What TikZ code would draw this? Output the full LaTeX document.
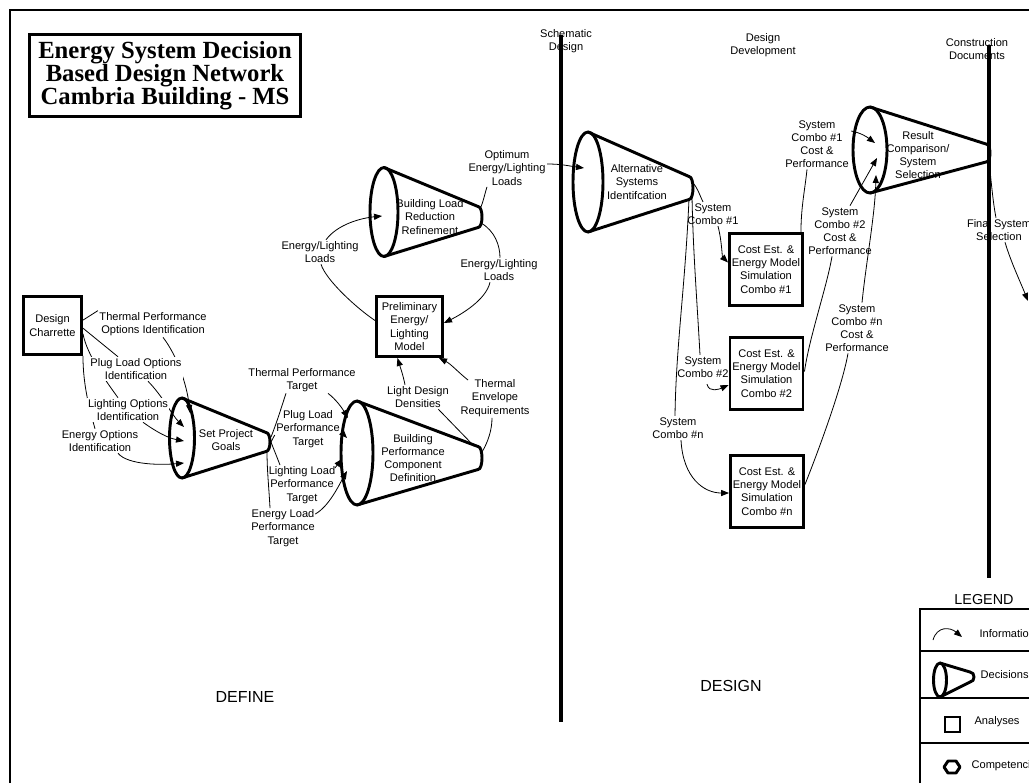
\documentclass[tikz,border=0pt]{standalone}
\usepackage{fontspec}
\setmainfont{Liberation Sans}
\newfontfamily\titlefont{Liberation Serif}
\usetikzlibrary{arrows.meta,calc}
\pgfdeclarelayer{wires}
\pgfdeclarelayer{phaselines}
\pgfsetlayers{wires,main,phaselines}

\tikzset{
  lbl/.style={font=\fontsize{8.3}{9.9}\selectfont, align=center, inner sep=1pt},
  phase/.style={font=\fontsize{12}{14}\selectfont, inner sep=1pt},
  conestyle/.style={line width=2.2pt, line join=round},
  boxnode/.style={draw, line width=2.2pt, align=center, inner sep=0pt,
                  font=\fontsize{8.3}{9.9}\selectfont},
  wire/.style={line width=0.6pt},
  arr/.style={wire, -{Triangle[length=6pt,width=4.6pt]}},
  sepline/.style={line width=2.3pt},
  legline/.style={line width=1.8pt},
}

% decision cone: ellipse (cx,cy,rx,ry) tapering to a rounded end at (tx,ty) of half height r
\newcommand{\drawcone}[7]{%
  \draw[conestyle] (#1,#2) ellipse [x radius=#3, y radius=#4];
  \draw[conestyle] (#1,#2-#4) -- (#5-4,#6-#7)
    .. controls (#5+1.33,#6-#7) and (#5+1.33,#6+#7) .. (#5-4,#6+#7) -- (#1,#2+#4);
}

\begin{document}
\begin{tikzpicture}[x=0.75pt,y=-0.75pt]
\useasboundingbox (0,0) rectangle (1029,783);

% outer frame
\draw[line width=1.5pt] (10,783) -- (10,10) -- (1029,10);

% title
\node[draw, line width=2.2pt, minimum width=203.25pt, minimum height=61.5pt, align=center,
      inner sep=0pt, font=\titlefont\bfseries\fontsize{18.5}{17.3}\selectfont]
  (title) at (165,75.5) {Energy System Decision\\Based Design Network\\Cambria Building - MS};

% phase names
\node[lbl] (ph1) at (566,41) {Schematic\\Design};
\node[lbl] (ph2) at (763,45) {Design\\Development};
\node[lbl] (ph3) at (977,49) {Construction\\Documents};
\node[phase] (def) at (245,697) {DEFINE};
\node[phase] (des) at (731,686) {DESIGN};

% phase separators
\coordinate (sd-top) at (561,35);
\coordinate (sd-bot) at (561,722);
\coordinate (cd-top) at (989,45);
\coordinate (cd-bot) at (989,578);
\begin{pgfonlayer}{phaselines}
  \draw[sepline] (sd-top) -- (sd-bot);
  \draw[sepline] (cd-top) -- (cd-bot);
\end{pgfonlayer}

% decisions
\drawcone{182}{438}{12.5}{40}{270}{442}{9.5}
\node[lbl] (spg) at (226,440) {Set Project\\Goals};
\drawcone{357}{453}{16}{52}{482}{458}{11.5}
\node[lbl] (bpcd) at (413,458) {Building\\Performance\\Component\\Definition};
\drawcone{384}{212}{14}{44.5}{482}{217}{10.5}
\node[lbl] (blrr) at (430,217) {Building Load\\Reduction\\Refinement};
\drawcone{588}{182}{15}{50}{693}{188}{11.5}
\node[lbl] (as) at (637,182) {Alternative\\Systems\\Identifcation};
\drawcone{870}{150}{17}{43}{990}{153}{9}
\node[lbl] (rc) at (918,155) {Result\\Comparison/\\System\\Selection};

% analyses
\node[boxnode, minimum width=43.5pt, minimum height=43.5pt] (dc) at (52.5,325.5) {Design\\Charrette};
\node[boxnode, minimum width=49.5pt, minimum height=45pt] (pm) at (409.5,326.5) {Preliminary\\Energy/\\Lighting\\Model};
\node[boxnode, minimum width=54.75pt, minimum height=54pt] (c1) at (766,269.5) {Cost Est. \&\\Energy Model\\Simulation\\Combo \#1};
\node[boxnode, minimum width=54.75pt, minimum height=54pt] (c2) at (766.5,373.5) {Cost Est. \&\\Energy Model\\Simulation\\Combo \#2};
\node[boxnode, minimum width=54.75pt, minimum height=54pt] (cn) at (767,491.5) {Cost Est. \&\\Energy Model\\Simulation\\Combo \#n};

% information labels
\node[lbl] (l1) at (153,324) {Thermal Performance\\Options Identification};
\node[lbl, fill=white] (l2) at (136,369) {Plug Load Options\\Identification};
\node[lbl, fill=white] (l3) at (128,410) {Lighting Options\\Identification};
\node[lbl] (l4) at (100,441) {Energy Options\\Identification};
\node[lbl] (l5) at (302,380) {Thermal Performance\\Target};
\node[lbl] (l6) at (308,429) {Plug Load\\Performance\\Target};
\node[lbl] (l7) at (302,485) {Lighting Load\\Performance\\Target};
\node[lbl] (l8) at (283,528) {Energy Load\\Performance\\Target};
\node[lbl] (l9) at (418,397) {Light Design\\Densities};
\node[lbl] (l10) at (495,398) {Thermal\\Envelope\\Requirements};
\node[lbl] (l11) at (320,252) {Energy/Lighting\\Loads};
\node[lbl] (l12) at (499,270) {Energy/Lighting\\Loads};
\node[lbl] (l13) at (507,168) {Optimum\\Energy/Lighting\\Loads};
\node[lbl] (l14) at (713,214) {System\\Combo \#1};
\node[lbl] (l15) at (703,367) {System\\Combo \#2};
\node[lbl] (l16) at (678,428) {System\\Combo \#n};
\node[lbl] (l17) at (817,144) {System\\Combo \#1\\Cost \&\\Performance};
\node[lbl] (l18) at (840,231) {System\\Combo \#2\\Cost \&\\Performance};
\node[lbl] (l19) at (857,328) {System\\Combo \#n\\Cost \&\\Performance};
\node[lbl] (l20) at (999,230) {Final System\\Selection};

% connector ends on the decisions
\coordinate (spg-a) at (190,413);
\coordinate (spg-b) at (184,427);
\coordinate (spg-c) at (184,441);
\coordinate (spg-d) at (184,463);
\coordinate (spg-tt) at (271,437);
\coordinate (spg-tip) at (271,442);
\coordinate (spg-tb) at (267,451);
\coordinate (bp-a) at (348,418);
\coordinate (bp-b) at (347,438);
\coordinate (bp-c) at (342,459);
\coordinate (bp-d) at (347,471);
\coordinate (bp-tt) at (474,446);
\coordinate (bp-tip) at (482,452);
\coordinate (blrr-a) at (382,216);
\coordinate (blrr-tt) at (480,209);
\coordinate (blrr-tb) at (481,223);
\coordinate (as-a) at (584,168);
\coordinate (as-tt) at (692,182);
\coordinate (as-tb) at (692,196);
\coordinate (as-tb2) at (689,199);
\coordinate (rc-a) at (875,143);
\coordinate (rc-b) at (877,158);
\coordinate (rc-c) at (876,175);
\coordinate (rc-tb) at (989,160);
\coordinate (fss-end) at (1028,301);

\begin{pgfonlayer}{wires}
% design charrette -> set project goals
\draw[wire] (dc.10) -- (l1.north west);
\draw[arr] ($(l1.south)+(10,0)$) .. controls +(14,18) and +(-3,-28) .. (spg-a);
\draw[wire] (dc.-5) -- ($(l2.north)+(-18,0)$);
\draw[arr] ($(l2.south)+(12,0)$) .. controls +(14,14) and +(-12,-12) .. (spg-b);
\draw[wire] (dc.-15) .. controls +(4,22) and +(-10,-14) .. ($(l3.north)+(-10,0)$);
\draw[arr] ($(l3.south)+(15,0)$) .. controls +(14,10) and +(-16,-3) .. (spg-c);
\draw[wire] (dc.south east) .. controls +(0,30) and +(-5,-18) .. ($(l4.north)+(-5,0)$);
\draw[arr] ($(l4.south)+(18,0)$) .. controls +(10,12) and +(-22,2) .. (spg-d);
% set project goals -> building performance component definition
\draw[wire] (spg-tt) .. controls +(6,-15) and +(-4,12) .. ($(l5.south)+(-16,0)$);
\draw[arr] ($(l5.south)+(26,0)$) .. controls +(8,6) and +(-6,-10) .. (bp-a);
\draw[wire] (spg-tip) -- ($(l6.west)+(0,6)$);
\draw[arr] ($(l6.east)+(0,3)$) -- (bp-b);
\draw[wire] (spg-tip) .. controls +(3,8) and +(-3,-8) .. ($(l7.north)+(-22,0)$);
\draw[arr] ($(l7.north east)+(-2,3)$) -- (bp-c);
\draw[wire] (spg-tb) .. controls +(0,20) and +(-1,-20) .. ($(l8.north)+(-13,0)$);
\draw[arr] ($(l8.north east)+(-1,6)$) .. controls +(14,-8) and +(-8,14) .. (bp-d);
% building performance component definition -> preliminary model
\draw[wire] (bp-tt) -- ($(l9.south east)+(-12,0)$);
\draw[arr] ($(l9.north)+(-13,0)$) .. controls +(-2,-10) and +(3,10) .. ($(pm.south)+(-12,0)$);
\draw[wire] (bp-tip) .. controls +(6,-10) and +(0,12) .. ($(l10.south)+(-3,0)$);
\draw[arr] ($(l10.north)+(-27,2)$) .. controls +(-10,-8) and +(12,6) .. ($(pm.south east)+(-5,0)$);
% preliminary model <-> building load reduction refinement
\draw[wire] ($(pm.west)+(0,-6)$) .. controls +(-18,-12) and +(5,16) .. ($(l11.south)+(1,0)$);
\draw[arr] ($(l11.north)+(6,0)$) .. controls +(12,-16) and +(-20,2) .. (blrr-a);
\draw[wire] (blrr-tb) .. controls +(14,8) and +(0,-12) .. ($(l12.north)+(1,0)$);
\draw[arr] ($(l12.south)+(-9,0)$) .. controls +(-4,18) and +(16,-8) .. ($(pm.east)+(0,-3.5)$);
% building load reduction refinement -> alternative systems
\draw[wire] (blrr-tt) .. controls +(3,-6) and +(-2,6) .. ($(l13.south)+(-20,0)$);
\draw[arr] ($(l13.east)+(0,-4)$) .. controls +(15,0) and +(-15,-2) .. (as-a);
% alternative systems -> cost estimates
\draw[wire] (as-tt) .. controls +(6,6) and +(-4,-8) .. ($(l14.north)+(-10,0)$);
\draw[arr] ($(l14.south)+(5,0)$) .. controls +(4,16) and +(-6,-6) .. ($(c1.west)+(0,-7)$);
\draw[wire] (as-tb) .. controls +(1,55) and +(-3,-55) .. ($(l15.north)+(-3,0)$);
\draw[arr] ($(l15.south)+(4,5)$) .. controls +(2,9) and +(-9,4) .. ($(c2.west)+(0,11.5)$);
\draw[wire] (as-tb2) .. controls +(-4,90) and +(1,-70) .. ($(l16.north)+(-3,0)$);
\draw[arr] ($(l16.south)+(3,0)$) .. controls +(2,38) and +(-25,0) .. ($(cn.west)+(0,1.5)$);
% cost estimates -> result comparison
\draw[wire] ($(c1.north east)+(-3,0)$) .. controls +(0,-25) and +(-2,20) .. ($(l17.south)+(-10,0)$);
\draw[arr] ($(l17.east)+(1,-13)$) .. controls +(10,2) and +(-8,-6) .. (rc-a);
\draw[wire] ($(c2.east)+(0,-2)$) .. controls +(5,-35) and +(-5,30) .. ($(l18.south)+(-8,0)$);
\draw[arr] ($(l18.north)+(10,0)$) -- (rc-b);
\draw[wire] ($(cn.east)+(0,-7)$) .. controls +(10,-25) and +(-6,35) .. ($(l19.south)+(-9,0)$);
\draw[arr] ($(l19.north)+(5,0)$) .. controls +(4,-40) and +(-1,40) .. (rc-c);
% result comparison -> final selection
\draw[wire] (rc-tb) .. controls +(2,20) and +(-3,-15) .. ($(l20.north)+(-3,0)$);
\draw[arr] ($(l20.south)+(6,0)$) .. controls +(6,20) and +(-8,-20) .. (fss-end);
\end{pgfonlayer}

% legend
\node[font=\fontsize{10.8}{12}\selectfont, inner sep=1pt] (lgtitle) at (984,600) {LEGEND};
\draw[legline] (920,783) -- (920,609) -- (1029,609);
\draw[legline] (920,651) -- (1029,651);
\draw[legline] (920,698) -- (1029,698);
\draw[legline] (920,743) -- (1029,743);
\coordinate (lg-i1) at (933,640);
\coordinate (lg-i2) at (962,637);
\draw[arr] (lg-i1) .. controls +(4,-14) and +(-12,-10) .. (lg-i2);
\node[lbl, anchor=west] (lg-info) at (978,634) {Information};
\drawcone{940}{680}{6.5}{17}{974}{677}{5}
\node[lbl, anchor=west] (lg-dec) at (979,675) {Decisions};
\draw[line width=2pt] (945,717) rectangle (960,732);
\node[lbl, anchor=west] (lg-ana) at (973,722) {Analyses};
\draw[line width=2.2pt, line join=round] (944,767) -- (948,761) -- (956,761) -- (960,767)
  -- (956,773) -- (948,773) -- cycle;
\node[lbl, anchor=west] (lg-com) at (970,766) {Competencies};
\end{tikzpicture}
\end{document}
